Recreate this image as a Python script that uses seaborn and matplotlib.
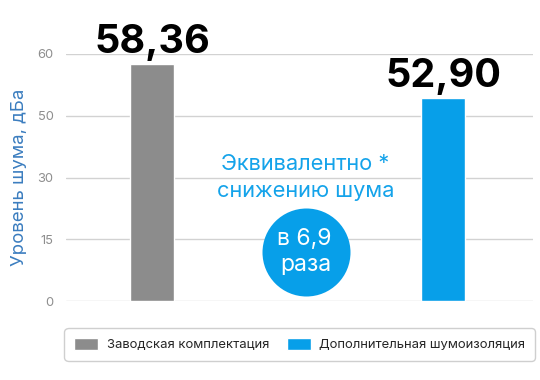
import numpy as np
import pandas as pd
import matplotlib
matplotlib.use("Agg")
import matplotlib.pyplot as plt
import seaborn as sns

categories = ["Заводская комплектация", "Дополнительная шумоизоляция"]
values = [58.36, 52.90]
colors = ["#8c8c8c", "#079fe9"]
yticks = [0, 15, 30, 50, 60]
ylabel = "Уровень шума, дБа"
note_lines = ["Эквивалентно *", "снижению шума"]
badge_lines = ["в 6,9", "раза"]

sns.set_theme(style="white")
plt.rcParams["font.family"] = ["Inter", "Liberation Sans", "DejaVu Sans"]

df = pd.DataFrame({"cat": categories, "val": values})

fig = plt.figure(figsize=(5.4, 3.8), dpi=100)
ax = fig.add_axes([66 / 540, 1 - 301.3 / 380, 467 / 540, 247.3 / 380])

# piecewise-even y scale: ticks 0,15,30,50,60 are equally spaced
pos = np.arange(len(yticks), dtype=float)
fwd = lambda y: np.interp(y, yticks, pos, left=0, right=pos[-1])
inv = lambda u: np.interp(u, pos, yticks)
ax.set_yscale("function", functions=(fwd, inv))

sns.barplot(data=df, x="cat", y="val", hue="cat", palette=colors,
            width=0.151, ax=ax, legend=True, saturation=1)

ax.set_xlim(-0.2955, 1.309)
ax.set_ylim(0, 60)
ax.set_yticks(yticks)
ax.set_yticklabels([str(t) for t in yticks])
ax.set_xticks([])
ax.set_xlabel("")
ax.set_ylabel(ylabel, color="#3b7dbf", fontsize=13.4, labelpad=7)
ax.tick_params(axis="y", length=0, pad=9, labelsize=9.3, labelcolor="#8e8e8e")
ax.grid(axis="y", color="#d2d2d2", linewidth=1)
ax.set_axisbelow(True)
for s in ax.spines.values():
    s.set_visible(False)

for i, v in enumerate(values):
    ax.annotate(f"{v:.2f}".replace(".", ","), xy=(i, v), xytext=(0, 8),
                textcoords="offset points", ha="center", va="baseline",
                fontsize=28.5, fontweight="bold", color="black",
                annotation_clip=False)

ax.text(0.513, 0.531, note_lines[0], transform=ax.transAxes, ha="center",
        va="baseline", fontsize=15.7, color="#14a3ea")
ax.text(0.513, 0.422, note_lines[1], transform=ax.transAxes, ha="center",
        va="baseline", fontsize=15.7, color="#14a3ea")

ax.scatter([0.514], [0.199], s=(88 * 0.72) ** 2, color="#079fe9",
           transform=ax.transAxes, clip_on=False, zorder=5, linewidths=0)
ax.text(0.510, 0.228, badge_lines[0], transform=ax.transAxes, ha="center",
        va="baseline", fontsize=16.5, color="white", zorder=6)
ax.text(0.514, 0.1225, badge_lines[1], transform=ax.transAxes, ha="center",
        va="baseline", fontsize=16.5, color="white", zorder=6)

handles, labels = ax.get_legend_handles_labels()
ax.get_legend().remove()
leg = fig.legend(handles, labels, loc="center", ncol=2,
                 bbox_to_anchor=(299.7 / 540, 1 - 344.5 / 380),
                 fontsize=9.4, frameon=True, fancybox=True,
                 handlelength=1.84, handleheight=1.07, handletextpad=0.62,
                 columnspacing=1.38, borderpad=0.78)
leg.get_frame().set_edgecolor("#c4c4c4")
leg.get_frame().set_linewidth(1)
leg.get_frame().set_boxstyle("round", pad=0, rounding_size=0.35)

fig.savefig("out.png", dpi=100)
